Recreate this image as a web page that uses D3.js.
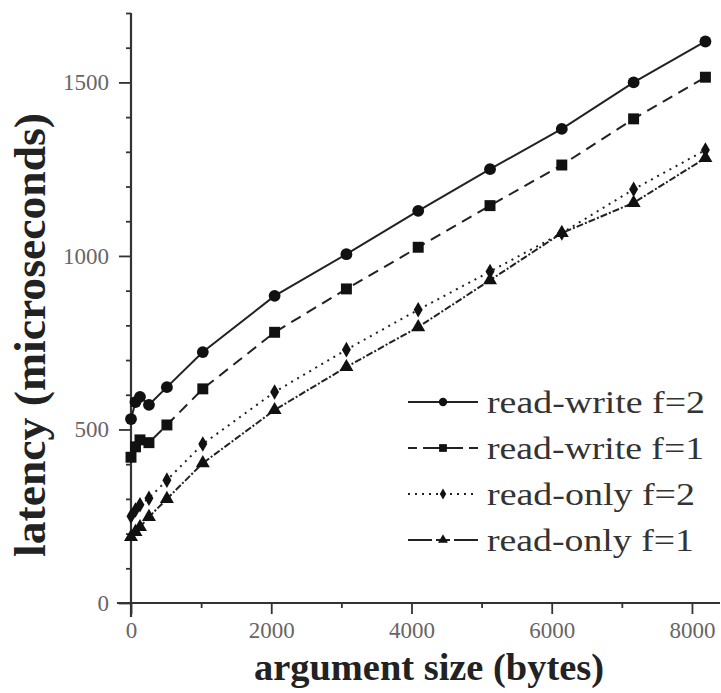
<!DOCTYPE html>
<html>
<head>
<meta charset="utf-8">
<script src="https://cdn.jsdelivr.net/npm/d3@7"></script>
<style>
  body { margin: 0; background: #fff; }
  text { font-family: "Liberation Serif", "DejaVu Serif", serif; }
</style>
</head>
<body>
<div id="chart"></div>
<script>
// data
var sizes = [0, 64, 128, 256, 512, 1024, 2048, 3072, 4096, 5120, 6144, 7168, 8192];
var rwF2 = [530, 579, 594, 571, 622, 723, 885, 1005, 1130, 1250, 1366, 1500, 1618];
var rwF1 = [420, 450, 470, 462, 513, 617, 780, 905, 1025, 1145, 1262, 1395, 1515];
var roF2 = [250, 268, 283, 302, 354, 458, 608, 730, 845, 955, 1066, 1192, 1305];
var roF1 = [190, 205, 219, 248, 300, 403, 556, 680, 795, 930, 1066, 1153, 1282];
var seriesNames = ["read-write f=2", "read-write f=1", "read-only f=2", "read-only f=1"];
var xTicks = [0, 2000, 4000, 6000, 8000];
var yTicks = [0, 500, 1000, 1500];

var svgWidth = 721;
var svgHeight = 693;

var svg = d3.select("#chart")
    .append("svg")
    .attr("width", svgWidth)
    .attr("height", svgHeight);

var x = d3.scaleLinear().domain([0, 8400]).range([131, 720]);
var y = d3.scaleLinear().domain([0, 1700]).range([603, 13]);

var axisColor = "#333";

// minor ticks
svg.append("g")
    .attr("transform", "translate(0,603)")
    .call(d3.axisBottom(x).tickValues([1000, 3000, 5000, 7000]).tickSize(5).tickFormat(""))
    .call(g => g.select(".domain").remove());
svg.append("g")
    .attr("transform", "translate(131,0)")
    .call(d3.axisLeft(y).tickValues(d3.range(100, 1701, 100).filter(v => v % 500 != 0)).tickSize(5).tickFormat(""))
    .call(g => g.select(".domain").remove());

// major ticks + labels
var xAxis = svg.append("g")
    .attr("transform", "translate(0,603)")
    .call(d3.axisBottom(x).tickValues(xTicks).tickSize(11).tickPadding(8).tickFormat(d3.format("d")));
var yAxis = svg.append("g")
    .attr("transform", "translate(131,0)")
    .call(d3.axisLeft(y).tickValues(yTicks).tickSize(12).tickPadding(10).tickFormat(d3.format("d")));

svg.selectAll(".tick line").attr("stroke", axisColor).attr("stroke-width", 1.8);
svg.selectAll(".domain").remove();
svg.selectAll(".tick text")
    .attr("fill", "#666")
    .style("font-size", "23px")
    .style("font-family", "Liberation Serif, serif");

// axis lines, they run a bit past the origin
svg.append("line")
    .attr("x1", x(0) - 14).attr("x2", x(8400))
    .attr("y1", y(0)).attr("y2", y(0))
    .attr("stroke", axisColor).attr("stroke-width", 2.2);
svg.append("line")
    .attr("x1", x(0)).attr("x2", x(0))
    .attr("y1", y(1700)).attr("y2", y(0) + 14)
    .attr("stroke", axisColor).attr("stroke-width", 2.2);

// series
var series = [
    {name: seriesNames[0], vals: rwF2, dash: null, legDash: null, sym: d3.symbolCircle, size: 110, w: 218},
    {name: seriesNames[1], vals: rwF1, dash: "11,7", legDash: "9,6,40,6,9", sym: d3.symbolSquare, size: 120, w: 217},
    {name: seriesNames[2], vals: roF2, dash: "2,5", legDash: "2,5", sym: d3.symbolDiamond, size: 70, w: 208},
    {name: seriesNames[3], vals: roF1, dash: "7,2,2,2", legDash: "24,4,14,4,24", sym: d3.symbolTriangle, size: 85, w: 207}
];

var line = d3.line()
    .x((d, i) => x(sizes[i]))
    .y(d => y(d));

series.forEach(function(s) {
    svg.append("path")
        .datum(s.vals)
        .attr("d", line)
        .attr("fill", "none")
        .attr("stroke", "#222")
        .attr("stroke-width", 2)
        .attr("stroke-dasharray", s.dash);

    svg.selectAll(null)
        .data(s.vals)
        .enter()
        .append("path")
        .attr("d", d3.symbol().type(s.sym).size(s.size))
        .attr("transform", (d, i) => `translate(${x(sizes[i])},${y(d)})`)
        .attr("fill", "#111");
});

// legend
var legend = svg.append("g");
series.forEach(function(s, i) {
    var cy = 402 + i * 46;
    legend.append("line")
        .attr("x1", 408).attr("x2", 478)
        .attr("y1", cy).attr("y2", cy)
        .attr("stroke", "#222")
        .attr("stroke-width", 2)
        .attr("stroke-dasharray", s.legDash);
    legend.append("path")
        .attr("d", d3.symbol().type(s.sym).size(s.size * 0.5))
        .attr("transform", `translate(443,${cy})`)
        .attr("fill", "#111");
    legend.append("text")
        .attr("x", 487)
        .attr("y", cy + 11)
        .attr("fill", "#333")
        .attr("textLength", s.w)
        .attr("lengthAdjust", "spacingAndGlyphs")
        .style("font-size", "31px")
        .text(s.name);
});

//Labels
svg.append("text")
    .attr("x", 429)
    .attr("y", 680)
    .attr("text-anchor", "middle")
    .attr("font-weight", "bold")
    .attr("fill", "#222")
    .attr("textLength", 350)
    .attr("lengthAdjust", "spacingAndGlyphs")
    .style("font-size", "38px")
    .text("argument size (bytes)");

svg.append("text")
    .attr("transform", "translate(45,335) rotate(-90)")
    .attr("text-anchor", "middle")
    .attr("font-weight", "bold")
    .attr("fill", "#222")
    .attr("textLength", 444)
    .attr("lengthAdjust", "spacingAndGlyphs")
    .style("font-size", "44px")
    .text("latency (microseconds)");
</script>
</body>
</html>
